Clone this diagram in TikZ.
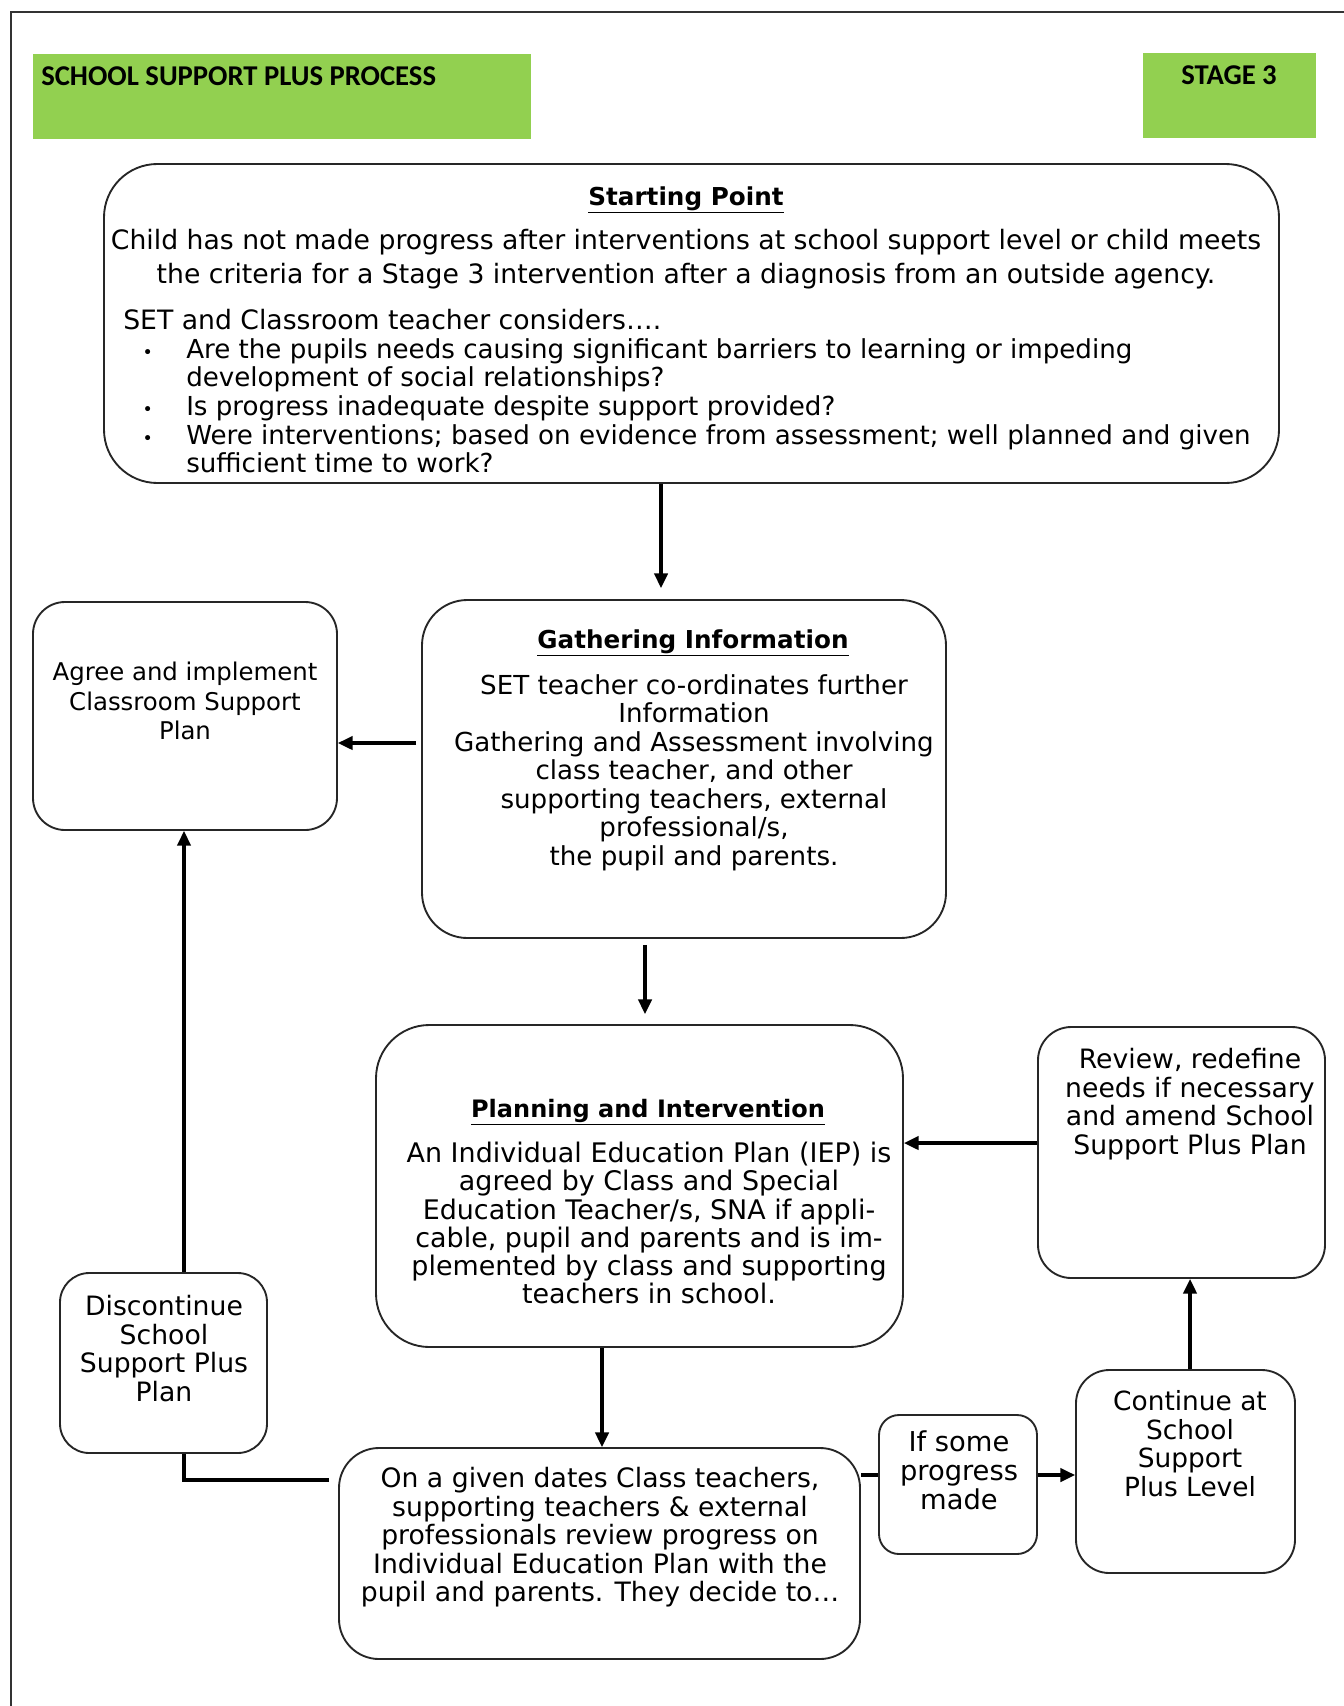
\documentclass[tikz,border=0pt]{standalone}
\usepackage{fontspec}
\setmainfont{DejaVu Sans}
\newfontfamily\hdrfont{Carlito}
\usetikzlibrary{arrows.meta,calc,fit}
\definecolor{hdrgreen}{HTML}{92D050}
\begin{document}
\begin{tikzpicture}[x=0.75pt,y=-0.75pt,
  box/.style={draw=black!85, line width=1.4pt, inner sep=0pt, fill=white},
  hdr/.style={fill=hdrgreen, draw=none, inner sep=0pt},
  hdrtxt/.style={anchor=base west, inner sep=0pt, font=\hdrfont\bfseries\fontsize{21.5}{23}\selectfont},
  txt/.style={align=center, inner sep=0pt, anchor=north, font=\fontsize{20}{21.5}\selectfont},
  ttl/.style={align=center, inner sep=0pt, anchor=north, font=\bfseries\fontsize{18.5}{21}\selectfont},
  arr/.style={line width=2.4pt, -{Triangle[length=11pt,width=10pt]}},
  conn/.style={line width=2.4pt},
]
\useasboundingbox (0,0) rectangle (1344,1706);
\fill[white] (0,0) rectangle (1344,1706);
\draw[line width=2pt, black!80] (11,1706) -- (11,12) -- (1344,12);

% header
\node[hdr, fit={(33,54)(531,139)}] (title) {};
\node[hdr, fit={(1143,53)(1316,138)}] (stage) {};
\node[hdrtxt] (titletxt) at (41,85) {SCHOOL SUPPORT PLUS PROCESS};
\node[hdrtxt] (stagetxt) at (1181,84) {STAGE 3};

% boxes
\node[box, rounded corners=40pt, fit={(104,164)(1279,483)}] (start) {};
\node[box, rounded corners=34pt, fit={(422,600)(946,938)}] (gath) {};
\node[box, rounded corners=24pt, fit={(33,602)(337,830)}] (agree) {};
\node[box, rounded corners=40pt, fit={(376,1025)(903,1347)}] (plan) {};
\node[box, rounded corners=25pt, fit={(1038,1027)(1325,1278)}] (review) {};
\node[box, rounded corners=22pt, fit={(60,1273)(267,1453)}] (disc) {};
\node[box, rounded corners=30pt, fit={(339,1448)(860,1659)}] (given) {};
\node[box, rounded corners=15pt, fit={(879,1415)(1037,1554)}] (ifsome) {};
\node[box, rounded corners=25pt, fit={(1076,1370)(1295,1573)}] (cont) {};

% texts
\node[ttl] (startttl) at (686,186) {\underline{Starting Point}};
\node[txt, font=\fontsize{20}{25.5}\selectfont] (starttxt) at (686,229)
  {Child has not made progress after interventions at school support level or child meets\\
   the criteria for a Stage 3 intervention after a diagnosis from an outside agency.};
\node[txt, anchor=north west, align=left] (settxt) at (123,309) {SET and Classroom teacher considers….};
\node[txt, anchor=north west, align=left, font=\fontsize{19.6}{21.5}\selectfont] (bullets) at (186,338)
  {\llap{{\fontsize{13}{13}\selectfont •}\hspace{25pt}}Are the pupils needs causing significant barriers to learning or impeding\\
   development of social relationships?\\
   \llap{{\fontsize{13}{13}\selectfont •}\hspace{25pt}}Is progress inadequate despite support provided?\\
   \llap{{\fontsize{13}{13}\selectfont •}\hspace{25pt}}Were interventions; based on evidence from assessment; well planned and given\\
   sufficient time to work?};

\node[ttl] (gathttl) at (693,629) {\underline{Gathering Information}};
\node[txt, font=\fontsize{19.6}{21.4}\selectfont] (gathtxt) at (694,674)
  {SET teacher co-ordinates further\\ Information\\ Gathering and Assessment involving\\
   class teacher, and other\\ supporting teachers, external\\ professional/s,\\ the pupil and parents.};

\node[txt, font=\fontsize{18.3}{22}\selectfont] (agreetxt) at (185,662) {Agree and implement\\ Classroom Support\\ Plan};

\node[ttl, font=\bfseries\fontsize{18}{21}\selectfont] (planttl) at (648,1099) {\underline{Planning and Intervention}};
\node[txt, font=\fontsize{20.2}{21.15}\selectfont] (plantxt) at (649,1142)
  {An Individual Education Plan (IEP) is\\ agreed by Class and Special\\ Education Teacher/s, SNA if appli-\\
   cable, pupil and parents and is im-\\ plemented by class and supporting\\ teachers in school.};

\node[txt, font=\fontsize{20}{21.5}\selectfont] (reviewtxt) at (1190,1048)
  {Review, redefine\\ needs if necessary\\ and amend School\\ Support Plus Plan};

\node[txt, font=\fontsize{20}{21.5}\selectfont] (disctxt) at (164,1295)
  {Discontinue\\ School\\ Support Plus\\ Plan};

\node[txt, font=\fontsize{20}{21.4}\selectfont] (giventxt) at (600,1467)
  {On a given dates Class teachers,\\ supporting teachers \& external\\ professionals review progress on\\
   Individual Education Plan with the\\ pupil and parents. They decide to…};

\node[txt, font=\fontsize{20.5}{21.75}\selectfont] (ifsometxt) at (959,1430) {If some\\ progress\\ made};

\node[txt, font=\fontsize{19.8}{21.5}\selectfont] (conttxt) at (1190,1390)
  {Continue at\\ School\\ Support\\ Plus Level};

% connectors
\draw[arr] ($(start.south)+(-30.5,0)$) coordinate (a1) -- ($(a1 |- gath.north)+(0,-11)$);
\draw[arr] ($(gath.west)+(-5,-26)$) coordinate (a2) -- (a2 -| agree.east);
\draw[arr] ($(gath.south)+(-39,6)$) coordinate (a3) -- ($(a3 |- plan.north)+(0,-10)$);
\draw[arr] ($(review.west)+(0,-9.5)$) coordinate (a4) -- (a4 -| plan.east);
\draw[arr] ($(plan.south)+(-37.5,0)$) coordinate (a5) -- (a5 |- given.north);
\draw[arr] ($(disc.north)+(20.5,0)$) coordinate (a6) -- (a6 |- agree.south);
\draw[conn] ($(given.west)+(-9,-73.5)$) coordinate (a7) -| (a6 |- disc.south);
\draw[conn] ($(ifsome.west)+(0,-9.5)$) coordinate (a8) -- (a8 -| given.east);
\draw[arr] (a8 -| ifsome.east) -- (a8 -| cont.west);
\draw[arr] ($(cont.north)+(4.5,0)$) coordinate (a9) -- (a9 |- review.south);
\end{tikzpicture}
\end{document}
